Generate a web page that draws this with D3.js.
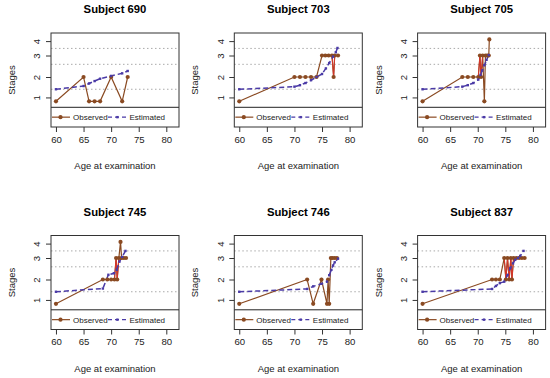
<!DOCTYPE html>
<html>
<head>
<meta charset="utf-8">
<script src="https://cdn.jsdelivr.net/npm/d3@7"></script>
<style>
  body { margin: 0; background: #fff; }
  svg { font-family: "Liberation Sans", Arial, sans-serif; }
</style>
</head>
<body>
<svg id="chart" width="550" height="378"></svg>
<script>
// data
var subjects = ["690", "703", "705", "745", "746", "837"];

var obsAge = [
  [60, 65, 66, 67, 68, 70, 72, 73],
  [60, 70, 71, 72, 73, 74, 75, 75.6, 76.2, 76.8, 77.1, 77.3, 77.9],
  [60, 67.2, 68.2, 69.2, 70.1, 70.4, 70.6, 70.9, 71.2, 71.4, 71.7, 72.0, 72.1],
  [60, 68.5, 69.3, 70.0, 70.6, 70.9, 71.1, 71.4, 71.7, 71.9, 72.3, 72.7],
  [60, 72.3, 73.4, 74.9, 75.9, 76.1, 76.3, 76.6, 76.9, 77.3, 77.7],
  [60, 72.6, 73.3, 74.0, 74.8, 75.1, 75.4, 75.7, 76.0, 76.2, 76.5, 77.0, 77.5, 78.0, 78.5]
];
var obsStage = [
  [1, 2, 1, 1, 1, 2, 1, 2],
  [1, 2, 2, 2, 2, 2, 3, 3, 3, 3, 2, 3, 3],
  [1, 2, 2, 2, 2, 3, 2, 3, 1, 3, 3, 3, 4],
  [1, 2, 2, 2, 2, 3, 2, 3, 4, 3, 3, 3],
  [1, 2, 1, 2, 1, 2, 1, 3, 3, 3, 3],
  [1, 2, 2, 2, 3, 2, 3, 2, 3, 2, 3, 3, 3, 3, 3]
];
var estAge = [
  [60, 65, 66, 67, 68, 70, 72, 73],
  [60, 70, 71, 72, 73, 74, 75, 75.7, 76.3, 77, 77.5, 77.8],
  [60, 67.2, 68.2, 69.2, 70.1, 70.5, 70.8, 71.2, 71.6, 72.0],
  [60, 68.5, 69.5, 70.5, 71.0, 71.5, 72.0, 72.6],
  [60, 72.3, 73.4, 74.9, 75.9, 76.3, 76.7, 77.0, 77.3, 77.9],
  [60, 72.6, 73.3, 74.0, 74.8, 75.4, 75.9, 76.4, 76.8, 77.3, 77.7, 78.3]
];
var estVal = [
  [1.43, 1.58, 1.7, 1.81, 1.92, 2.05, 2.17, 2.28],
  [1.43, 1.55, 1.62, 1.72, 1.85, 2.0, 2.14, 2.4, 2.65, 2.95, 3.15, 3.35],
  [1.43, 1.55, 1.62, 1.72, 1.88, 2.1, 2.3, 2.55, 2.8, 3.02],
  [1.43, 1.58, 2.22, 2.29, 2.45, 2.83, 3.05, 3.33],
  [1.43, 1.56, 1.68, 1.8, 1.9, 2.2, 2.45, 2.65, 2.8, 2.97],
  [1.43, 1.56, 1.7, 1.83, 1.9, 2.2, 2.53, 2.75, 2.92, 3.0, 3.1, 3.33]
];

var stageLabels = ["1", "2", "3", "4"];
var stageTickPos = [1.05, 2, 3, 3.67];   // where the stage labels sit on the latent axis
var stageObsPos = [0.87, 2, 3, 3.75];    // where an observed stage is drawn
var cutpoints = [1.43, 2.59, 3.33];
var xTicks = [60, 65, 70, 75, 80];
var legendLabels = ["Observed", "Estimated"];

var brown = "#8a4a22", red = "#d8352a", blue = "#4a3aa6";

var svg = d3.select("#chart");

var colW = 183.3, rowH = 202.5;
var boxL = 51, boxR = 179, boxT = 33, boxB = 127;

var x = d3.scaleLinear().domain([59.1, 82.3]).range([boxL, boxR]);
var y = d3.scaleLinear().domain([-0.326, 4.047]).range([boxB, boxT]);
var legendY = 0.59;

subjects.forEach(function (s, i) {
  var g = svg.append("g")
    .attr("transform", "translate(" + (i % 3) * colW + "," + Math.floor(i / 3) * rowH + ")");

  // title
  g.append("text")
    .attr("x", (boxL + boxR) / 2).attr("y", 13.3)
    .attr("text-anchor", "middle")
    .style("font-size", "11.3px").style("font-weight", "bold")
    .text("Subject " + s);

  // threshold lines
  g.selectAll(".cut").data(cutpoints).enter().append("line")
    .attr("x1", boxL).attr("x2", boxR)
    .attr("y1", function (d) { return y(d); })
    .attr("y2", function (d) { return y(d); })
    .attr("stroke", "#aaa").attr("stroke-width", 1)
    .attr("stroke-dasharray", "1.5,2.5");

  // observed
  var pts = obsAge[i].map(function (a, k) { return [a, obsStage[i][k]]; });
  var line = d3.line()
    .x(function (d) { return x(d[0]); })
    .y(function (d) { return y(stageObsPos[d[1] - 1]); });
  g.append("path").datum(pts)
    .attr("d", line).attr("fill", "none")
    .attr("stroke", brown).attr("stroke-width", 1.2);

  // quick back-and-forth changes between 2 and 3 come out red
  for (var k = 1; k < pts.length; k++) {
    var a = pts[k - 1], b = pts[k];
    if (b[0] - a[0] < 0.35 && Math.min(a[1], b[1]) === 2 && Math.max(a[1], b[1]) === 3) {
      g.append("path").datum([a, b])
        .attr("d", line).attr("fill", "none")
        .attr("stroke", red).attr("stroke-width", 1);
    }
  }

  // estimated
  var est = estAge[i].map(function (a, k) { return [a, estVal[i][k]]; });
  g.append("path").datum(est)
    .attr("d", d3.line().x(function (d) { return x(d[0]); }).y(function (d) { return y(d[1]); }))
    .attr("fill", "none").attr("stroke", blue).attr("stroke-width", 1.5)
    .attr("stroke-dasharray", "5,3");

  g.selectAll(".opt").data(pts).enter().append("circle")
    .attr("cx", function (d) { return x(d[0]); })
    .attr("cy", function (d) { return y(stageObsPos[d[1] - 1]); })
    .attr("r", 2.1).attr("fill", brown);

  g.selectAll(".ept").data(est).enter().append("rect")
    .attr("x", function (d) { return x(d[0]) - 1.2; })
    .attr("y", function (d) { return y(d[1]) - 1.2; })
    .attr("width", 2.4).attr("height", 2.4).attr("fill", blue);

  // legend strip
  g.append("line")
    .attr("x1", boxL).attr("x2", boxR)
    .attr("y1", y(legendY)).attr("y2", y(legendY))
    .attr("stroke", "#222").attr("stroke-width", 1);
  var ly = (y(legendY) + boxB) / 2;
  g.append("line").attr("x1", boxL + 1).attr("x2", boxL + 19).attr("y1", ly).attr("y2", ly)
    .attr("stroke", brown).attr("stroke-width", 1.2);
  g.append("circle").attr("cx", boxL + 9.5).attr("cy", ly).attr("r", 2.1).attr("fill", brown);
  g.append("text").attr("x", boxL + 22).attr("y", ly + 2.9)
    .style("font-size", "8px").attr("fill", "#222").text(legendLabels[0]);
  g.append("line").attr("x1", boxL + 57).attr("x2", boxL + 76).attr("y1", ly).attr("y2", ly)
    .attr("stroke", blue).attr("stroke-width", 1.3).attr("stroke-dasharray", "4,3");
  g.append("rect").attr("x", boxL + 65.2).attr("y", ly - 1.2).attr("width", 2.4).attr("height", 2.4)
    .attr("fill", blue);
  g.append("text").attr("x", boxL + 78.5).attr("y", ly + 2.9)
    .style("font-size", "8px").attr("fill", "#222").text(legendLabels[1]);

  // box
  g.append("rect")
    .attr("x", boxL).attr("y", boxT)
    .attr("width", boxR - boxL).attr("height", boxB - boxT)
    .attr("fill", "none").attr("stroke", "#333").attr("stroke-width", 1);

  // axes
  var xa = g.append("g").attr("transform", "translate(0," + boxB + ")")
    .call(d3.axisBottom(x).tickValues(xTicks).tickSize(5).tickPadding(4).tickFormat(d3.format("d")));
  xa.select(".domain").remove();
  xa.selectAll("line").attr("stroke", "#333");
  xa.selectAll("text").style("font-size", "9.6px").attr("fill", "#222")
    .style("font-family", "Liberation Sans, Arial, sans-serif");

  var ya = g.append("g").attr("transform", "translate(" + boxL + ",0)")
    .call(d3.axisLeft(y).tickValues(stageTickPos).tickSize(5)
      .tickFormat(function (d, k) { return stageLabels[k]; }));
  ya.select(".domain").remove();
  ya.selectAll("line").attr("stroke", "#333");
  ya.selectAll("text")
    .attr("x", null).attr("dy", null)
    .attr("transform", "translate(-14.3,0) rotate(-90)")
    .attr("text-anchor", "middle").attr("dominant-baseline", "central")
    .style("font-size", "9.6px").attr("fill", "#222")
    .style("font-family", "Liberation Sans, Arial, sans-serif");

  g.append("text")
    .attr("x", (boxL + boxR) / 2).attr("y", 169)
    .attr("text-anchor", "middle")
    .style("font-size", "9.5px").attr("fill", "#222")
    .text("Age at examination");

  g.append("text")
    .attr("transform", "translate(15," + (boxT + boxB) / 2 + ") rotate(-90)")
    .attr("text-anchor", "middle")
    .style("font-size", "9.5px").attr("fill", "#222")
    .text("Stages");
});
</script>
</body>
</html>
